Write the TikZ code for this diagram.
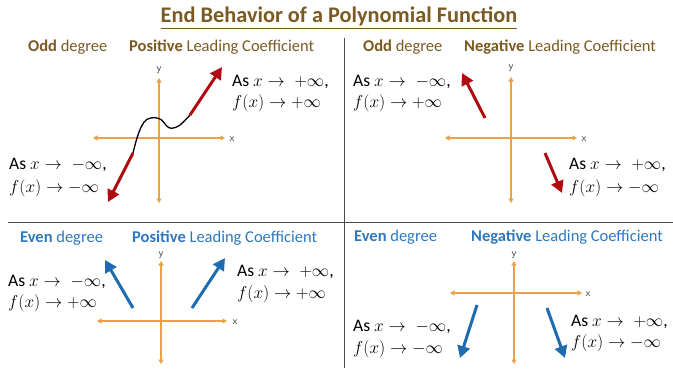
\documentclass[tikz,border=0pt]{standalone}
\usepackage{fontspec}
\setmainfont{Carlito}
\usetikzlibrary{arrows.meta}
\definecolor{ttlbrown}{HTML}{7A5A22}
\definecolor{hdblue}{HTML}{2E78BE}
\definecolor{arrblue}{HTML}{1F6BB0}
\definecolor{arrred}{HTML}{B00C10}
\definecolor{axorange}{HTML}{EBA145}
\definecolor{divgray}{HTML}{4A4A4A}
\tikzset{
  ttl/.style={font=\fontsize{22.3}{26}\selectfont\bfseries, text=ttlbrown, inner sep=0pt},
  hd/.style={font=\fontsize{16.5}{19}\selectfont, inner sep=0pt, anchor=west},
  txt/.style={font=\fontsize{17.6}{21}\selectfont, inner sep=0pt, anchor=west, text=black},
  axis/.style={draw=axorange, line width=1.6pt, {Triangle[length=4.5pt,width=5pt]}-{Triangle[length=4.5pt,width=5pt]}},
  axlbl/.style={font=\fontsize{10.5}{11}\selectfont\sffamily, inner sep=0pt, text=black!80},
  redarr/.style={draw=arrred, line width=3pt, -{Triangle[length=12pt,width=12.5pt]}},
  bluearr/.style={draw=arrblue, line width=3pt, -{Triangle[length=12pt,width=12.5pt]}},
  divider/.style={draw=divgray, line width=0.9pt},
}
\begin{document}
\begin{tikzpicture}[x=1pt,y=-1pt]
\useasboundingbox (0,0) rectangle (673,368);
% title
\node[ttl] (title) at (339,16) {End Behavior of a Polynomial Function};
\draw[ttlbrown, line width=1.3pt] ([yshift=-2.5pt]title.south west) -- ([yshift=-2.5pt]title.south east);
% dividers
\coordinate (vtop) at (344,38);
\coordinate (vbot) at (344,368);
\coordinate (hl) at (8,222);
\coordinate (hr) at (673,222);
\draw[divider] (vtop) -- (vbot);
\draw[divider] (hl) -- (hr);
% headings
\node[hd, text=ttlbrown] (h1a) at (28,47) {\textbf{Odd} degree};
\node[hd, text=ttlbrown] (h1b) at (129,47) {\textbf{Positive} Leading Coefficient};
\node[hd, text=ttlbrown] (h2a) at (363,47) {\textbf{Odd} degree};
\node[hd, text=ttlbrown] (h2b) at (464,47) {\textbf{Negative} Leading Coefficient};
\node[hd, text=hdblue] (h3a) at (20,238) {\textbf{Even} degree};
\node[hd, text=hdblue] (h3b) at (132,238) {\textbf{Positive} Leading Coefficient};
\node[hd, text=hdblue] (h4a) at (354,237) {\textbf{Even} degree};
\node[hd, text=hdblue] (h4b) at (471,237) {\textbf{Negative} Leading Coefficient};
% Q1 axes
\coordinate (q1yt) at (159,78); \coordinate (q1yb) at (159,203);
\coordinate (q1xl) at (93,138); \coordinate (q1xr) at (225,138);
\draw[axis] (q1yb) -- (q1yt);
\draw[axis] (q1xl) -- (q1xr);
\node[axlbl] (q1y) at (159,70) {y};
\node[axlbl] (q1x) at (232,139) {x};
% Q1 curve
\draw[black, line width=1.3pt] plot[smooth, tension=0.6] coordinates {(133,153) (137,138) (141.7,126) (147,119.3) (155,117.7) (161.7,120) (166.7,126) (171.7,128.3) (180,125) (190,115)};
\coordinate (q1s1) at (190,115); \coordinate (q1e1) at (222,67);
\coordinate (q1s2) at (133,153); \coordinate (q1e2) at (108,202);
\draw[redarr] (q1s1) -- (q1e1);
\draw[redarr] (q1s2) -- (q1e2);
\node[txt] (t1a) at (232,82) {As $x\rightarrow\;+\infty$,};
\node[txt] (t1b) at (232,103) {$f(x)\rightarrow+\infty$};
\node[txt] (t1c) at (9,165) {As $x\rightarrow\;-\infty$,};
\node[txt] (t1d) at (9,188) {$f(x)\rightarrow-\infty$};
% Q2 axes
\coordinate (q2yt) at (511,77); \coordinate (q2yb) at (511,203);
\coordinate (q2xl) at (445,138); \coordinate (q2xr) at (577,138);
\draw[axis] (q2yb) -- (q2yt);
\draw[axis] (q2xl) -- (q2xr);
\node[axlbl] (q2y) at (511,68) {y};
\node[axlbl] (q2x) at (584,139) {x};
\coordinate (q2s1) at (485,118); \coordinate (q2e1) at (462,73);
\coordinate (q2s2) at (545,153); \coordinate (q2e2) at (562,193);
\draw[redarr] (q2s1) -- (q2e1);
\draw[redarr] (q2s2) -- (q2e2);
\node[txt] (t2a) at (353,82) {As $x\rightarrow\;-\infty$,};
\node[txt] (t2b) at (353,103) {$f(x)\rightarrow+\infty$};
\node[txt] (t2c) at (569,165) {As $x\rightarrow\;+\infty$,};
\node[txt] (t2d) at (569,188) {$f(x)\rightarrow-\infty$};
% Q3 axes
\coordinate (q3yt) at (161,261); \coordinate (q3yb) at (161,364);
\coordinate (q3xl) at (97,321); \coordinate (q3xr) at (227,321);
\draw[axis] (q3yb) -- (q3yt);
\draw[axis] (q3xl) -- (q3xr);
\node[axlbl] (q3y) at (161,255) {y};
\node[axlbl] (q3x) at (235,322) {x};
\coordinate (q3s1) at (133,308); \coordinate (q3e1) at (105,260);
\coordinate (q3s2) at (192,308); \coordinate (q3e2) at (225,258);
\draw[bluearr] (q3s1) -- (q3e1);
\draw[bluearr] (q3s2) -- (q3e2);
\node[txt] (t3a) at (8,282) {As $x\rightarrow\;-\infty$,};
\node[txt] (t3b) at (8,303) {$f(x)\rightarrow+\infty$};
\node[txt] (t3c) at (237,272) {As $x\rightarrow\;+\infty$,};
\node[txt] (t3d) at (237,294) {$f(x)\rightarrow+\infty$};
% Q4 axes
\coordinate (q4yt) at (514,261); \coordinate (q4yb) at (514,364);
\coordinate (q4xl) at (450,293); \coordinate (q4xr) at (582,293);
\draw[axis] (q4yb) -- (q4yt);
\draw[axis] (q4xl) -- (q4xr);
\node[axlbl] (q4y) at (514,255) {y};
\node[axlbl] (q4x) at (588,294) {x};
\coordinate (q4s1) at (477,305); \coordinate (q4e1) at (460,358);
\coordinate (q4s2) at (547,308); \coordinate (q4e2) at (565,358);
\draw[bluearr] (q4s1) -- (q4e1);
\draw[bluearr] (q4s2) -- (q4e2);
\node[txt] (t4a) at (353,327) {As $x\rightarrow\;-\infty$,};
\node[txt] (t4b) at (353,349) {$f(x)\rightarrow-\infty$};
\node[txt] (t4c) at (571,322) {As $x\rightarrow\;+\infty$,};
\node[txt] (t4d) at (571,343) {$f(x)\rightarrow-\infty$};
\end{tikzpicture}
\end{document}
